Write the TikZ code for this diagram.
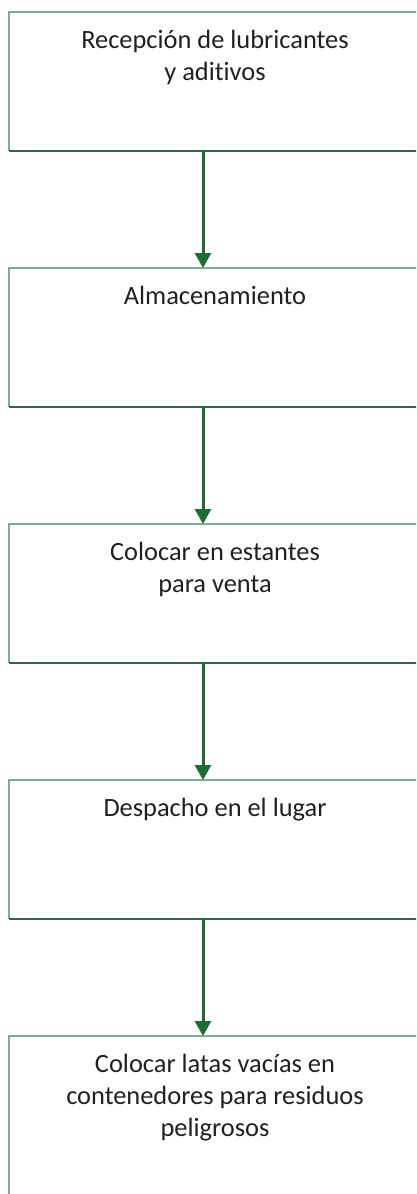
\documentclass[tikz,border=0pt]{standalone}
\usepackage{fontspec}
\setmainfont{Carlito}[Ligatures=NoCommon]
\usetikzlibrary{arrows.meta}
\definecolor{txt}{HTML}{202020}
\definecolor{arrg}{HTML}{1F6B36}
\definecolor{edgel}{HTML}{7DAE8B}
\definecolor{edged}{HTML}{2E6B45}
\begin{document}
\begin{tikzpicture}[x=1pt,y=-1pt,
  box/.style={minimum width=412pt,minimum height=139pt,inner sep=0pt,outer sep=0pt},
  tallbox/.style={box,minimum height=200pt},
  lbl/.style={anchor=north,inner sep=0pt,align=center,text=txt,font=\fontsize{26.4}{32}\selectfont},
  lightedge/.style={edgel,line width=1.6pt},
  darkedge/.style={edged,line width=1.6pt},
  arr/.style={arrg,line width=3pt,-{Triangle[length=15pt,width=16pt]}}]
\useasboundingbox (0,0) rectangle (416,1194);
\clip (0,0) rectangle (416,1194);
\node[box] (b1) at (215,81.5) {};
\node[box] (b2) at (215,337.5) {};
\node[box] (b3) at (215,593.5) {};
\node[box] (b4) at (215,849.5) {};
\node[tallbox] (b5) at (215,1136) {};
\foreach \b in {b1,b2,b3,b4,b5}{
  \draw[lightedge] (\b.south west) -- (\b.north west) -- (\b.north east);
  \draw[darkedge] (\b.south west) -- (\b.south east);
}
\node[lbl] (t1) at ([yshift=-14pt]b1.north) {\strut Recepción de lubricantes\\\strut y aditivos};
\node[lbl] (t2) at ([yshift=-14pt]b2.north) {\strut Almacenamiento};
\node[lbl] (t3) at ([yshift=-14pt]b3.north) {\strut Colocar en estantes\\\strut para venta};
\node[lbl] (t4) at ([yshift=-14pt]b4.north) {\strut Despacho en el lugar};
\node[lbl] (t5) at ([yshift=-14pt]b5.north) {\strut Colocar latas vacías en\\\strut contenedores para residuos\\\strut peligrosos};
\draw[arr] ([xshift=-12pt]b1.south) -- ([xshift=-12pt]b2.north);
\draw[arr] ([xshift=-12pt]b2.south) -- ([xshift=-12pt]b3.north);
\draw[arr] ([xshift=-12pt]b3.south) -- ([xshift=-12pt]b4.north);
\draw[arr] ([xshift=-12pt]b4.south) -- ([xshift=-12pt]b5.north);
\end{tikzpicture}
\end{document}
